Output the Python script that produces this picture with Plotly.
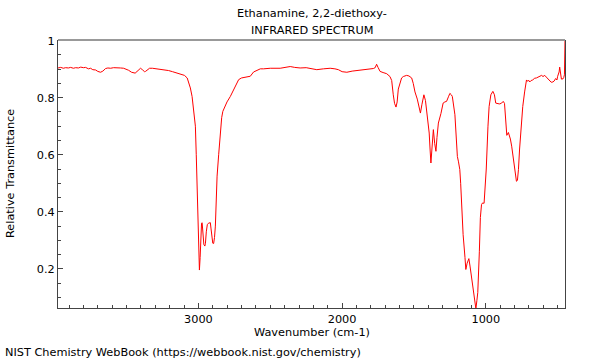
import plotly.graph_objects as go

title_line1 = "Ethanamine, 2,2-diethoxy-"
title_line2 = "INFRARED SPECTRUM"
x_title = "Wavenumber (cm-1)"
y_title = "Relative Transmittance"
credit = "NIST Chemistry WebBook (https://webbook.nist.gov/chemistry)"

wavenumber = [
    3977, 3958, 3940, 3924, 3905, 3889, 3870, 3854, 3835, 3819, 3800, 3785, 3765, 3750, 3735, 3715,
    3700, 3681, 3665, 3646, 3630, 3611, 3590, 3576, 3560, 3542, 3520, 3500, 3486, 3465, 3450, 3440,
    3420, 3403, 3390, 3375, 3368, 3355, 3340, 3320, 3300, 3278, 3250, 3230, 3208, 3180, 3160, 3125,
    3097, 3078, 3067, 3056, 3044, 3035, 3021, 3015, 3009, 3003, 2996, 2993, 2988, 2983, 2978, 2974,
    2968, 2962, 2955, 2951, 2945, 2938, 2930, 2917, 2912, 2906, 2900, 2894, 2888, 2882, 2876, 2870,
    2859, 2847, 2838, 2830, 2815, 2801, 2778, 2755, 2735, 2720, 2700, 2685, 2660, 2639, 2616, 2592,
    2569, 2547, 2500, 2431, 2400, 2361, 2330, 2292, 2250, 2200, 2176, 2130, 2083, 2050, 2026, 2000,
    1967, 1930, 1898, 1852, 1810, 1783, 1770, 1760, 1750, 1736, 1715, 1700, 1690, 1667, 1655, 1644,
    1635, 1625, 1617, 1609, 1597, 1586, 1574, 1560, 1551, 1535, 1516, 1505, 1493, 1477, 1465, 1455,
    1445, 1431, 1420, 1412, 1400, 1394, 1388, 1382, 1375, 1365, 1356, 1347, 1340, 1330, 1312, 1297,
    1285, 1273, 1260, 1250, 1240, 1233, 1215, 1205, 1198, 1190, 1181, 1175, 1169, 1158, 1145, 1139,
    1130, 1118, 1110, 1099, 1083, 1075, 1069, 1062, 1056, 1045, 1038, 1030, 1023, 1012, 1005, 997,
    985, 977, 965, 951, 940, 931, 915, 903, 890, 879, 870, 865, 854, 843, 835, 829,
    820, 811, 800, 787, 780, 773, 765, 757, 743, 730, 724, 717, 712, 700, 694, 685,
    674, 660, 648, 635, 625, 612, 602, 590, 579, 568, 556, 545, 533, 525, 514, 505,
    500, 490, 486, 480, 474, 463, 458, 453, 449,
]
transmittance = [
    0.904, 0.906, 0.903, 0.905, 0.904, 0.906, 0.903, 0.905, 0.904, 0.907, 0.905, 0.906, 0.901, 0.903, 0.898, 0.897,
    0.892, 0.889, 0.893, 0.902, 0.904, 0.903, 0.905, 0.904, 0.905, 0.904, 0.903, 0.900, 0.896, 0.889, 0.887, 0.886,
    0.895, 0.903, 0.898, 0.891, 0.892, 0.898, 0.903, 0.903, 0.902, 0.901, 0.899, 0.897, 0.895, 0.891, 0.888, 0.884,
    0.878, 0.869, 0.855, 0.834, 0.804, 0.760, 0.700, 0.600, 0.466, 0.320, 0.220, 0.196, 0.240, 0.320, 0.360, 0.362,
    0.310, 0.285, 0.280, 0.290, 0.330, 0.355, 0.360, 0.362, 0.340, 0.300, 0.290, 0.289, 0.310, 0.350, 0.430, 0.525,
    0.600, 0.688, 0.730, 0.752, 0.770, 0.785, 0.804, 0.828, 0.850, 0.863, 0.869, 0.871, 0.874, 0.875, 0.890, 0.895,
    0.901, 0.901, 0.903, 0.903, 0.905, 0.909, 0.906, 0.904, 0.905, 0.900, 0.898, 0.901, 0.903, 0.901, 0.898, 0.891,
    0.889, 0.893, 0.895, 0.898, 0.899, 0.902, 0.905, 0.917, 0.906, 0.892, 0.888, 0.886, 0.884, 0.874, 0.860, 0.810,
    0.780, 0.767, 0.785, 0.830, 0.855, 0.869, 0.874, 0.878, 0.878, 0.876, 0.869, 0.850, 0.820, 0.795, 0.765, 0.746,
    0.775, 0.810, 0.790, 0.752, 0.700, 0.676, 0.620, 0.571, 0.620, 0.688, 0.640, 0.612, 0.660, 0.711, 0.745, 0.781,
    0.785, 0.787, 0.803, 0.815, 0.810, 0.804, 0.740, 0.660, 0.594, 0.575, 0.548, 0.500, 0.430, 0.320, 0.240, 0.198,
    0.220, 0.236, 0.210, 0.170, 0.117, 0.090, 0.060, 0.090, 0.117, 0.260, 0.380, 0.425, 0.431, 0.430, 0.490, 0.550,
    0.700, 0.769, 0.810, 0.822, 0.810, 0.781, 0.779, 0.778, 0.781, 0.787, 0.780, 0.740, 0.668, 0.678, 0.665, 0.655,
    0.630, 0.594, 0.550, 0.507, 0.510, 0.548, 0.620, 0.690, 0.769, 0.820, 0.839, 0.862, 0.858, 0.860, 0.855, 0.860,
    0.862, 0.868, 0.869, 0.872, 0.875, 0.878, 0.874, 0.878, 0.872, 0.866, 0.857, 0.854, 0.855, 0.858, 0.867, 0.862,
    0.875, 0.890, 0.907, 0.875, 0.865, 0.866, 0.870, 0.880, 1.000,
]

FONT = "DejaVu Sans"
FS = 11.3

fig = go.Figure()
fig.add_trace(go.Scatter(
    x=wavenumber, y=transmittance, mode="lines",
    line=dict(color="#ff0000", width=1), hoverinfo="skip", showlegend=False,
))

fig.update_layout(
    width=600, height=360,
    margin=dict(l=58, r=35, t=40, b=52, autoexpand=False),
    paper_bgcolor="white", plot_bgcolor="white",
    font=dict(family=FONT, size=FS, color="black"),
    showlegend=False,
    xaxis=dict(
        range=[3977, 449], autorange=False, automargin=False,
        tickmode="linear", tick0=0, dtick=1000,
        ticks="inside", ticklen=5, tickcolor="#444", tickwidth=1,
        minor=dict(dtick=100, tick0=0, ticks="inside", ticklen=3, tickcolor="#444"),
        showline=True, linecolor="#444", linewidth=1, mirror=False,
        showgrid=False, zeroline=False,
        tickfont=dict(size=FS),
    ),
    yaxis=dict(
        range=[0.063, 1.002], autorange=False, automargin=False,
        tickmode="linear", tick0=0, dtick=0.2,
        ticks="inside", ticklen=5, tickcolor="#444", tickwidth=1,
        minor=dict(dtick=0.05, tick0=0, ticks="inside", ticklen=3, tickcolor="#444"),
        showline=True, linecolor="#444", linewidth=1, mirror=True,
        showgrid=False, zeroline=False,
        tickfont=dict(size=FS),
    ),
    shapes=[dict(type="line", xref="paper", yref="paper", x0=0, x1=1, y0=1, y1=1,
                 line=dict(color="#999999", width=2))],
    annotations=[
        dict(text=title_line1, xref="paper", yref="paper", x=0.5, y=1, yshift=27,
             showarrow=False, xanchor="center", yanchor="middle", font=dict(size=FS)),
        dict(text=title_line2, xref="paper", yref="paper", x=0.5, y=1, yshift=10,
             showarrow=False, xanchor="center", yanchor="middle", font=dict(size=FS)),
        dict(text=x_title, xref="paper", yref="paper", x=0.5, y=0, yshift=-24,
             showarrow=False, xanchor="center", yanchor="middle", font=dict(size=FS)),
        dict(text=y_title, xref="paper", yref="paper", x=0, y=0.5, xshift=-48, textangle=-90,
             showarrow=False, xanchor="center", yanchor="middle", font=dict(size=FS)),
        dict(text=credit, xref="paper", yref="paper", x=0, y=0, xshift=-55, yshift=-44,
             showarrow=False, xanchor="left", yanchor="middle", font=dict(size=FS)),
    ],
)

fig.write_html("out.html", config={"displayModeBar": False},
               post_script="document.body.style.margin='0';")
